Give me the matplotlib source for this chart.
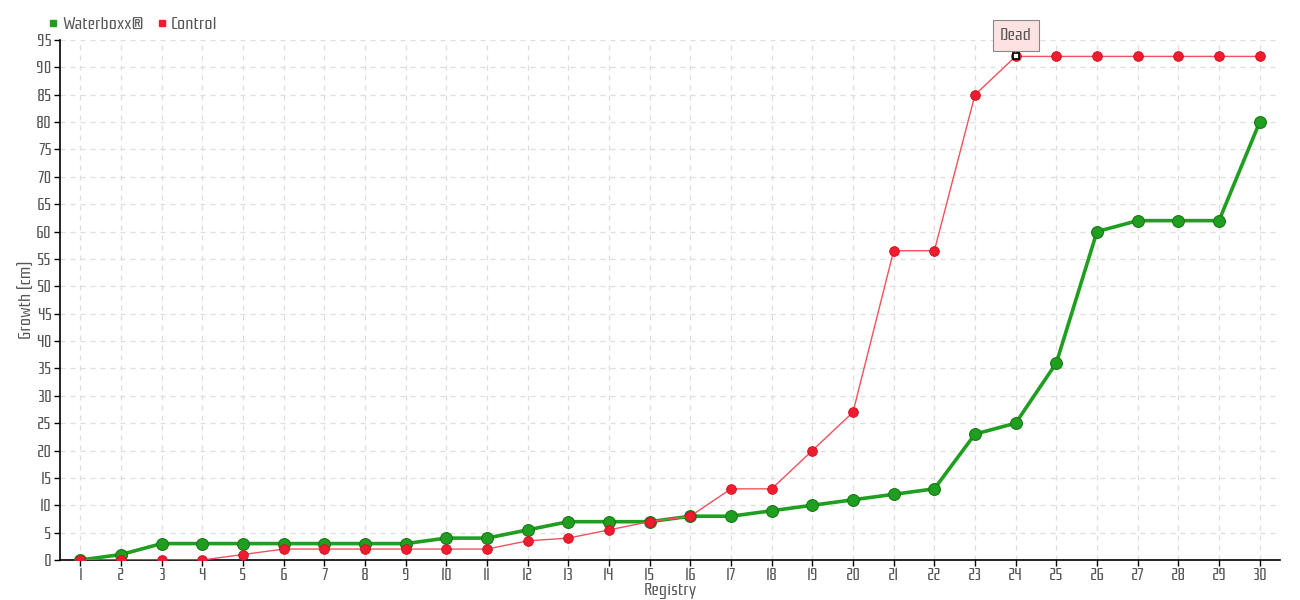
import matplotlib
matplotlib.use("Agg")
import matplotlib.pyplot as plt
from matplotlib.lines import Line2D

registry = list(range(1, 31))
waterboxx = [0, 1, 3, 3, 3, 3, 3, 3, 3, 4, 4, 5.5, 7, 7, 7, 8, 8, 9, 10, 11,
             12, 13, 23, 25, 36, 60, 62, 62, 62, 80]
control = [0, 0, 0, 0, 1, 2, 2, 2, 2, 2, 2, 3.5, 4, 5.5, 7, 8, 13, 13, 20, 27,
           56.5, 56.5, 85, 92, 92, 92, 92, 92, 92, 92]
dead_index = 23  # registry 24
dead_label = "Dead"

plt.rcParams['font.family'] = ['Rationale', 'DejaVu Sans']
text_color = "#555555"

fig = plt.figure(figsize=(13, 6), dpi=100)
ax = fig.add_axes([60 / 1300, 40 / 600, 1220 / 1300, 520 / 600])

green = "#1f9e1f"
red = "#ee1c2e"

ax.plot(registry, waterboxx, color=green, lw=2.6, marker='o', ms=8.5,
        mfc=green, mec="#187818", mew=0.8, zorder=3)
ax.plot(registry, control, color="#f2505c", lw=1.0, marker='o', ms=7,
        mfc=red, mec="#d01020", mew=0.6, zorder=4)

# dead marker
ax.plot(registry[dead_index], control[dead_index], marker='s', ms=4.5,
        mfc='white', mec='black', mew=1.2, zorder=6)
ax.annotate(dead_label, xy=(registry[dead_index], control[dead_index]),
            xytext=(0, 15), textcoords='offset points', ha='center', va='center',
            fontsize=13, color=text_color,
            bbox=dict(boxstyle='square,pad=0.4', fc='#fde2e2', ec='#888888', lw=0.8),
            arrowprops=dict(arrowstyle='-', color='#888888', lw=0.8,
                            shrinkA=0, shrinkB=3),
            zorder=7)

ax.set_xlim(0.5, 30.5)
ax.set_ylim(0, 95)
ax.set_xticks(registry)
ax.set_yticks(range(0, 96, 5))
ax.grid(True, color='#dddddd', linestyle=(0, (4, 4)), lw=0.9)
ax.set_axisbelow(True)

for s in ['top', 'right']:
    ax.spines[s].set_visible(False)
for s in ['left', 'bottom']:
    ax.spines[s].set_color('black')
    ax.spines[s].set_linewidth(1.2)

ax.tick_params(axis='both', labelsize=13, labelcolor=text_color, length=4,
               width=1, color='black', pad=2)
ax.set_xlabel("Registry", fontsize=13, color=text_color, labelpad=-1)
ax.set_ylabel("Growth (cm)", fontsize=13, color=text_color, labelpad=0)

handles = [Line2D([], [], color=green, marker='s', ls='none', ms=5),
           Line2D([], [], color=red, marker='s', ls='none', ms=5)]
fig.legend(handles, ["Waterboxx®", "Control"], loc='upper left',
           bbox_to_anchor=(30 / 1300, 1.0), ncol=2, frameon=False,
           fontsize=13, handletextpad=0.1, columnspacing=0.6,
           handlelength=0.8, labelcolor=text_color)

fig.savefig("out.png", dpi=100)
